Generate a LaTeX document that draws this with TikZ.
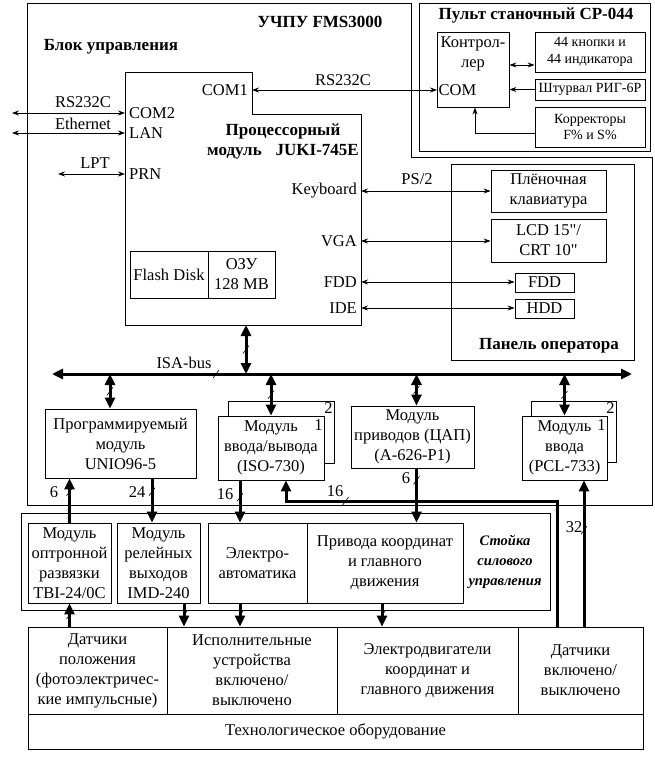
\documentclass[tikz,border=0pt]{standalone}
\usepackage{fontspec}
\setmainfont{Liberation Serif}
\newfontfamily\plainq[Ligatures=TeXOff]{Liberation Serif}
\usetikzlibrary{arrows.meta}

\tikzset{
  every node/.style={font=\fontsize{16.5}{20}\selectfont, inner sep=1.5pt},
  box/.style={draw, line width=0.8pt, fill=white, align=center, inner sep=0pt},
  frame/.style={draw, line width=0.8pt},
  port/.style={inner sep=4pt},
  sig/.style={line width=0.8pt, {Stealth[length=7pt,width=5pt]}-{Stealth[length=7pt,width=5pt]}},
  sigin/.style={line width=0.8pt, -{Stealth[length=7pt,width=5pt]}},
  isa/.style={line width=3pt, {Triangle[length=11pt,width=10pt]}-{Triangle[length=11pt,width=10pt]}},
  thickin/.style={line width=3pt, -{Triangle[length=11pt,width=10pt]}},
  title/.style={font=\fontsize{17}{20}\selectfont\bfseries},
  small/.style={font=\fontsize{14}{16.5}\selectfont},
}
\newcommand{\wiremark}[1]{\draw[line width=0.6pt] ([shift={(-3,4)}]#1) -- ([shift={(3,-4)}]#1);}

\begin{document}
\begin{tikzpicture}[x=1pt,y=-1pt]
\useasboundingbox (0,0) rectangle (655,763);

% Control block frame
\draw[frame] (27,3) -- (411,3) -- (411,157) -- (652,157) -- (652,505) -- (27,505) -- cycle;
\node[title] (fms) at (320,22) {УЧПУ FMS3000};
\node[title] (blok) at (111,47) {Блок управления};

% Processor module
\draw[frame] (125,72) -- (252,72) -- (252,114) -- (361,114) -- (361,325) -- (125,325) -- cycle;
\node[title, align=center] (procT) at (283,141) {Процессорный\\модуль\hspace{14pt}JUKI-745E};

% Ports
\node[port, anchor=east] (com1) at (252,90) {COM1};
\node[port, anchor=west] (com2) at (125,113) {COM2};
\node[port, anchor=west] (lan) at (125,133) {LAN};
\node[port, anchor=west] (prn) at (125,174) {PRN};
\node[port, anchor=east] (kbd) at (361,191) {Keyboard};
\node[port, anchor=east] (vga) at (361,241) {VGA};
\node[port, anchor=east] (fddp) at (361,282) {FDD};
\node[port, anchor=east] (ide) at (361,308) {IDE};

% Memory
\node[box, minimum width=78, minimum height=47] (flash) at (169,274.5) {Flash Disk};
\node[box, minimum width=67, minimum height=47] (ozu) at (241.5,274.5) {ОЗУ\\128 MB};

% External links
\coordinate (extcom) at (12,113);
\coordinate (extlan) at (12,133);
\coordinate (extlpt) at (58,174);
\draw[sig] (extcom) -- (com2.west);
\draw[sig] (extlan) -- (lan.west);
\draw[sig] (extlpt) -- (prn.west);
\node (rsL) at (83,102) {RS232C};
\node (ethL) at (83,124) {Ethernet};
\node (lptL) at (95,163) {LPT};

% Machine console
\draw[frame] (419,3) rectangle (650,151);
\node[title] (pult) at (536,15) {Пульт станочный CP-044};
\node[box, minimum width=72, minimum height=75] (ctl) at (473,69.5) {};
\node[align=center] (ctlT) at (473,54) {Контрол-\\лер};
\node[anchor=west] (ctlcom) at (437,90) {COM};
\node[box, small, minimum width=110, minimum height=40] (knop) at (590,52) {44 кнопки и\\44 индикатора};
\node[box, small, minimum width=110, minimum height=21] (shturv) at (590,89.5) {Штурвал РИГ-6Р};
\node[box, small, minimum width=110, minimum height=40] (korr) at (590,127) {Корректоры\\F\% и S\%};

\draw[sig] (com1.east) -- (ctlcom.west);
\node (rsT) at (343,80) {RS232C};
\coordinate (kn) at ([yshift=-13]knop.west);
\draw[sig] (kn -| ctl.east) -- (kn);
\draw[sigin] (shturv.west) -- (shturv.west -| ctl.east);
\coordinate (ko) at ([yshift=-6]korr.west);
\coordinate (ctlB) at ([xshift=2]ctl.south);
\draw[sigin] (ko) -| (ctlB);

% Operator panel
\draw[frame] (451,164) rectangle (634,360);
\node[title] (panelT) at (549,346) {Панель оператора};
\node[box, minimum width=115, minimum height=42] (plen) at (548.5,191) {Плёночная\\клавиатура};
\node[box, minimum width=115, minimum height=43] (lcd) at (548.5,240.5) {LCD 15{\plainq"}/\\CRT 10{\plainq"}};
\node[box, minimum width=59, minimum height=19] (fddb) at (544.5,282.5) {FDD};
\node[box, minimum width=59, minimum height=19] (hdd) at (544.5,308.5) {HDD};
\draw[sig] (kbd.east) -- (kbd.east -| plen.west);
\draw[sig] (vga.east) -- (vga.east -| lcd.west);
\draw[sig] (fddp.east) -- (fddp.east -| fddb.west);
\draw[sig] (ide.east) -- (ide.east -| hdd.west);
\node (ps2) at (417,179) {PS/2};

% ISA bus
\coordinate (busL) at (52,374);
\coordinate (busR) at (632,374);
\draw[isa] (busL) -- (busR);
\node (isaT) at (184,363) {ISA-bus};
\coordinate (s0) at (216,374);
\coordinate (pbot) at (246,325);
\draw[isa] (pbot) -- (pbot |- busL) coordinate[midway] (s1);

% Modules on the bus
\node[box, minimum width=151, minimum height=69] (unio) at (120.5,443.5) {Программируемый\\модуль\\UNIO96-5};
\node[box, minimum width=106, minimum height=62] (isoB) at (281,432) {};
\node[box, minimum width=106, minimum height=64] (isoF) at (271,448) {Модуль\\ввода/вывода\\(ISO-730)};
\node[anchor=north east] (iso2) at (isoB.north east) {2};
\node[anchor=north east] (iso1) at ([yshift=-2]isoF.north east) {1};
\node[box, minimum width=123, minimum height=62] (mdr) at (412.5,437) {Модуль\\приводов (ЦАП)\\(А-626-Р1)};
\node[box, minimum width=85, minimum height=61] (pclB) at (573.5,431.5) {};
\node[box, minimum width=85, minimum height=64] (pclF) at (564.5,448) {Модуль\\ввода\\(PCL-733)};
\node[anchor=north east] (pcl2) at (pclB.north east) {2};
\node[anchor=north east] (pcl1) at ([yshift=-2]pclF.north east) {1};

\coordinate (du) at ([xshift=-10.5]unio.north);
\draw[isa] (du |- busL) -- (du) coordinate[midway] (s2);
\draw[isa] (isoF.north |- busL) -- (isoF.north) coordinate[midway] (s3);
\coordinate (dm) at ([xshift=4]mdr.north);
\draw[isa] (dm |- busL) -- (dm) coordinate[midway] (s4);
\draw[isa] (pclF.north |- busL) -- (pclF.north) coordinate[midway] (s15);

% Power control rack
\draw[frame] (21,513) rectangle (550,610);
\node[font=\fontsize{14.5}{20}\selectfont\bfseries\itshape, align=center] (stT) at (505,562) {Стойка\\силового\\управления};
\node[box, minimum width=83, minimum height=80] (tbi) at (69.5,563) {Модуль\\оптронной\\развязки\\TBI-24/0C};
\node[box, minimum width=83, minimum height=80] (imd) at (158.5,563) {Модуль\\релейных\\выходов\\IMD-240};
\node[box, minimum width=99, minimum height=80] (elec) at (257.5,563) {Электро-\\автоматика};
\node[box, minimum width=156, minimum height=80] (priv) at (385,563) {Привода координат\\и главного\\движения};

% Technological equipment
\node[box, minimum width=139, minimum height=87] (dat1) at (97.5,670.5) {Датчики\\положения\\(фотоэлектричес-\\кие импульсные)};
\node[box, minimum width=170, minimum height=87] (isp) at (252,670.5) {Исполнительные\\устройства\\включено/\\выключено};
\node[box, minimum width=181, minimum height=87] (edv) at (427.5,670.5) {Электродвигатели\\координат и\\главного движения};
\node[box, minimum width=125, minimum height=87] (dat4) at (580.5,670.5) {Датчики\\включено/\\выключено};
\node[box, minimum width=615, minimum height=35] (tech) at (335.5,731.5) {Технологическое оборудование};

% Modules to rack
\draw[thickin] (tbi.north) -- (tbi.north |- unio.south) coordinate[pos=0.7] (s5);
\node (n6a) at (54,492) {6};
\coordinate (c24) at ([xshift=-6.5]imd.north);
\draw[thickin] (c24 |- unio.south) -- (c24) coordinate[pos=0.3] (s6);
\node (n24) at (137,492) {24};
\coordinate (c16) at ([xshift=-17.5]elec.north);
\draw[thickin] (c16 |- isoF.south) -- (c16) coordinate[pos=0.4] (s7);
\node (n16a) at (225,494) {16};
\coordinate (c6b) at ([xshift=4]mdr.south);
\draw[thickin] (c6b) -- (c6b |- priv.north) coordinate[pos=0.22] (s8);
\node (n6b) at (406,478) {6};
\coordinate (isoup) at ([xshift=15]isoF.south);
\coordinate (lbend) at (557,501);
\draw[thickin] (lbend |- dat4.north) -- (lbend) -- (lbend -| isoup) coordinate[pos=0.78] (s9) -- (isoup);
\node (n16b) at (335,491) {16};
\coordinate (c32) at ([xshift=3.5]dat4.north);
\draw[thickin] (c32) -- (c32 |- pclF.south) coordinate[pos=0.66] (s10);
\node (n32) at (574,527) {32};

% Rack to equipment
\draw[thickin] (tbi.south |- dat1.north) -- (tbi.south) coordinate[midway] (s11);
\coordinate (cimd) at ([xshift=25.5]imd.south);
\draw[thickin] (cimd) -- (cimd |- isp.north) coordinate[midway] (s12);
\coordinate (cel) at ([xshift=-17.5]elec.south);
\draw[thickin] (cel) -- (cel |- isp.north) coordinate[midway] (s13);
\coordinate (cpr) at ([xshift=-3]priv.south);
\draw[thickin] (cpr) -- (cpr |- edv.north) coordinate[midway] (s14);

% Bus width marks
\foreach \i in {0,...,15} {
  \wiremark{s\i}
}
\end{tikzpicture}
\end{document}
